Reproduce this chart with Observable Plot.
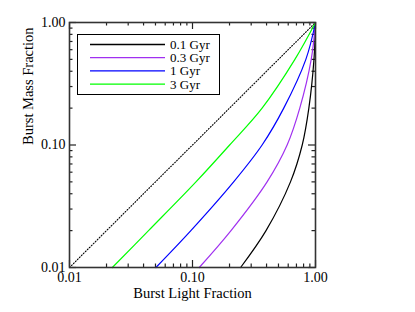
<!DOCTYPE html>
<html>
<head>
<meta charset="utf-8">
<script src="https://cdn.jsdelivr.net/npm/d3@7"></script>
<script src="https://cdn.jsdelivr.net/npm/@observablehq/plot@0.6"></script>
<style>
  html, body { margin: 0; padding: 0; background: #fff; }
  #chart { position: relative; width: 415px; height: 312px; }
  #chart svg { display: block; }
  #legend { position: absolute; left: 0; top: 0; }
</style>
</head>
<body>
<div id="chart"></div>
<script>
// ---- data ----
const massLevels = [0.01, 0.02, 0.05, 0.1, 0.2, 0.5, 1.0];
const seriesNames = ["0.1 Gyr", "0.3 Gyr", "1 Gyr", "3 Gyr"];
const seriesColors = ["#000000", "#a030f0", "#0000ff", "#00ff00"];
const light01 = [0.246, 0.396, 0.626, 0.780, 0.883, 0.972, 1.0];
const light03 = [0.1135, 0.2056, 0.404, 0.588, 0.745, 0.923, 1.0];
const light1  = [0.0504, 0.097, 0.216, 0.368, 0.552, 0.835, 1.0];
const light3  = [0.0223, 0.0439, 0.1067, 0.2004, 0.368, 0.68, 1.0];
const diagonal = [0.01, 1.0];
const majorTicks = [0.01, 0.1, 1];
const minorTicks = [0.02,0.03,0.04,0.05,0.06,0.07,0.08,0.09,0.2,0.3,0.4,0.5,0.6,0.7,0.8,0.9];
const xLabel = "Burst Light Fraction";
const yLabel = "Burst Mass Fraction";

const allLight = [light01, light03, light1, light3];
const rows = [];
allLight.forEach((arr, i) => arr.forEach((x, j) => rows.push({series: seriesNames[i], x, y: massLevels[j]})));

const W = 415, H = 312;
const mL = 69, mR = 100, mT = 22, mB = 45;
const innerW = W - mL - mR, innerH = H - mT - mB;
const font = "'Liberation Serif', 'DejaVu Serif', serif";

const plot = Plot.plot({
  width: W, height: H,
  marginLeft: mL, marginRight: mR, marginTop: mT, marginBottom: mB,
  style: {fontFamily: font, fontSize: "14px", background: "#fff", color: "#000"},
  x: {type: "log", domain: [0.01, 1]},
  y: {type: "log", domain: [0.01, 1]},
  color: {domain: seriesNames, range: seriesColors},
  marks: [
    Plot.axisX(majorTicks, {tickSize: 0, tickPadding: 5, tickFormat: d3.format(".2f"), label: null, fontSize: 14}),
    Plot.axisY(majorTicks, {tickSize: 0, tickPadding: 4, tickFormat: d3.format(".2f"), label: null, fontSize: 14}),
    Plot.tickX(majorTicks, {x: d => d, insetTop: innerH - 7, stroke: "#222", strokeWidth: 1.2}),
    Plot.tickX(majorTicks, {x: d => d, insetBottom: innerH - 7, stroke: "#222", strokeWidth: 1.2}),
    Plot.tickX(minorTicks, {x: d => d, insetTop: innerH - 3.5, stroke: "#222", strokeWidth: 1.2}),
    Plot.tickX(minorTicks, {x: d => d, insetBottom: innerH - 3.5, stroke: "#222", strokeWidth: 1.2}),
    Plot.tickY(majorTicks, {y: d => d, insetRight: innerW - 7, stroke: "#222", strokeWidth: 1.2}),
    Plot.tickY(majorTicks, {y: d => d, insetLeft: innerW - 7, stroke: "#222", strokeWidth: 1.2}),
    Plot.tickY(minorTicks, {y: d => d, insetRight: innerW - 3.5, stroke: "#222", strokeWidth: 1.2}),
    Plot.tickY(minorTicks, {y: d => d, insetLeft: innerW - 3.5, stroke: "#222", strokeWidth: 1.2}),
    Plot.line(diagonal, {x: d => d, y: d => d, stroke: "#000", strokeWidth: 1.1, strokeDasharray: "1,1.8"}),
    Plot.line(rows, {x: "x", y: "y", z: "series", stroke: "series", strokeWidth: 1.2, curve: "catmull-rom"}),
    Plot.frame({stroke: "#333", strokeWidth: 1.6}),
    Plot.text([xLabel], {frameAnchor: "bottom", dy: 30, text: d => d, fontSize: 14.5, fill: "#000"}),
    Plot.text([yLabel], {frameAnchor: "left", dx: -41, rotate: -90, text: d => d, fontSize: 14.5, fill: "#000"})
  ]
});

const chart = document.getElementById("chart");
chart.appendChild(plot);

// legend overlay (inside plot area, upper left)
const lg = d3.select(chart).append("svg")
  .attr("id", "legend").attr("width", W).attr("height", H)
  .style("font-family", font).style("font-size", "13px");
const box = {x: 77, y: 34, w: 142, h: 60};
lg.append("rect").attr("x", box.x + 0.5).attr("y", box.y + 0.5).attr("width", box.w).attr("height", box.h)
  .attr("fill", "#fff").attr("stroke", "#000").attr("stroke-width", 1);
seriesNames.forEach((name, i) => {
  const yy = 44.5 + i * 13.2;
  lg.append("line").attr("x1", 90).attr("x2", 165).attr("y1", yy).attr("y2", yy)
    .attr("stroke", seriesColors[i]).attr("stroke-width", 1.3);
  lg.append("text").attr("x", 170).attr("y", yy).attr("dy", "0.35em").text(name).attr("fill", "#000");
});
</script>
</body>
</html>
